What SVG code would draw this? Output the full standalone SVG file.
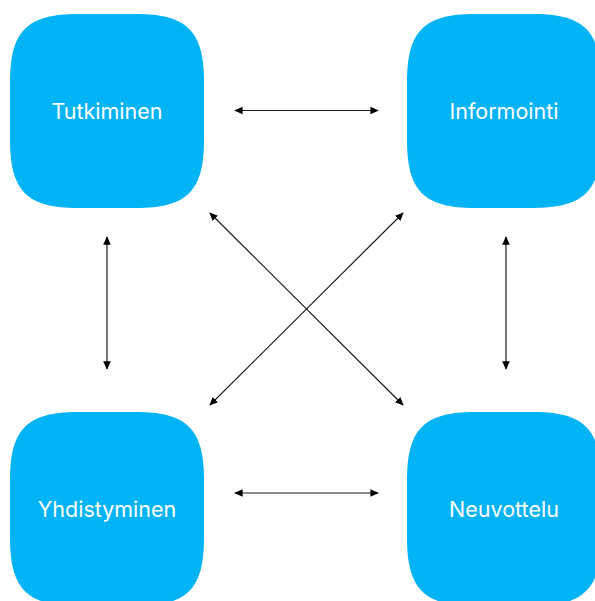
<svg xmlns="http://www.w3.org/2000/svg" width="595" height="601" viewBox="0 0 595 601">
<style>
.box{fill:#02B3F6;}
.lbl{font-family:Inter,"Liberation Sans",sans-serif;font-size:21.5px;fill:#ffffff;text-anchor:middle;}
.con{stroke:#1a1a1a;stroke-width:1.2;fill:none;marker-start:url(#ah);marker-end:url(#ah);}
</style>
<defs>
<path id="sq" d="M0,68 C0,17 17,0 68,0 L126,0 C177,0 194,17 194,68 L194,126 C194,177 177,194 126,194 L68,194 C17,194 0,177 0,126 Z"/>
<marker id="ah" viewBox="0 0 10 10" refX="9" refY="5" markerWidth="8.5" markerHeight="8.5" markerUnits="userSpaceOnUse" orient="auto-start-reverse">
<path d="M0,0.5 L10,5 L0,9.5 Z" fill="#000"/>
</marker>
</defs>
<rect width="595" height="601" fill="#fff"/>
<g id="tutkiminen"><use href="#sq" class="box" x="10" y="14"/><text class="lbl" x="107" y="118.5">Tutkiminen</text></g>
<g id="informointi"><use href="#sq" class="box" x="407" y="14"/><text class="lbl" x="504" y="118.5">Informointi</text></g>
<g id="yhdistyminen"><use href="#sq" class="box" x="10" y="412"/><text class="lbl" x="107" y="517">Yhdistyminen</text></g>
<g id="neuvottelu"><use href="#sq" class="box" x="407" y="412"/><text class="lbl" x="504" y="517">Neuvottelu</text></g>
<g id="connectors">
<line class="con" x1="235" y1="110.5" x2="378" y2="110.5"/>
<line class="con" x1="235" y1="493" x2="378" y2="493"/>
<line class="con" x1="107" y1="237" x2="107" y2="369"/>
<line class="con" x1="506" y1="237" x2="506" y2="369"/>
<line class="con" x1="210" y1="213" x2="403" y2="405"/>
<line class="con" x1="403" y1="213" x2="210" y2="405"/>
</g>
</svg>
